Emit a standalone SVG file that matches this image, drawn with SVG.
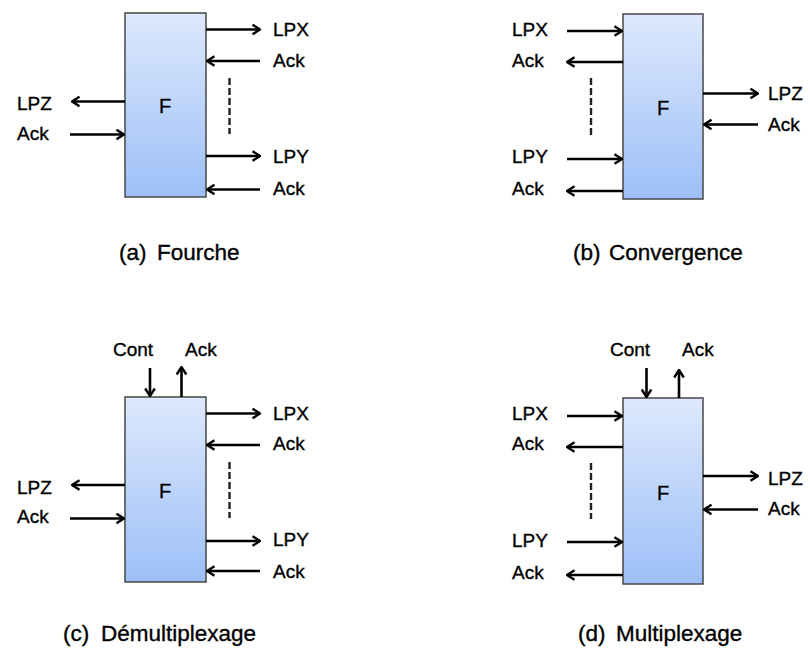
<svg xmlns="http://www.w3.org/2000/svg" width="810" height="650" viewBox="0 0 810 650">
<defs>
<linearGradient id="g" x1="0" y1="0" x2="0" y2="1">
<stop offset="0" stop-color="#dde9fd"/>
<stop offset="1" stop-color="#9dbff7"/>
</linearGradient>
<marker id="ah" viewBox="0 0 10 12" refX="9" refY="6" markerWidth="10" markerHeight="12" markerUnits="userSpaceOnUse" orient="auto">
<path d="M1.5,1.2 L9,6 L1.5,10.8" fill="none" stroke="#000" stroke-width="2.4" stroke-linejoin="miter"/>
</marker>
<style>
.box{fill:url(#g);stroke:#474747;stroke-width:1.5}
.a{stroke:#000;stroke-width:2.6;fill:none;marker-end:url(#ah)}
.d{stroke:#222;stroke-width:2.4;stroke-dasharray:7,3;fill:none}
text{font-family:"Liberation Sans",Arial,sans-serif;fill:#000;stroke:#000;stroke-width:0.35}
.l{font-size:19px}
.f{font-size:20px;text-anchor:middle}
.c{font-size:22.5px}
</style>
</defs>
<rect width="810" height="650" fill="#fff"/>

<g id="node-a">
<rect class="box" x="125" y="13" width="81" height="184"/>
<text class="f" x="165" y="113">F</text>
<text class="l" x="273" y="36">LPX</text>
<text class="l" x="273" y="67">Ack</text>
<text class="l" x="273" y="163">LPY</text>
<text class="l" x="273" y="195">Ack</text>
<text class="l" x="17" y="110">LPZ</text>
<text class="l" x="17" y="140">Ack</text>
<text class="c" y="260"><tspan x="119">(a)</tspan><tspan x="157">Fourche</tspan></text>
</g>

<g id="node-b">
<rect class="box" x="623" y="14" width="80" height="185"/>
<text class="f" x="663" y="115">F</text>
<text class="l" x="512" y="36">LPX</text>
<text class="l" x="512" y="67">Ack</text>
<text class="l" x="512" y="163">LPY</text>
<text class="l" x="512" y="195">Ack</text>
<text class="l" x="768" y="100">LPZ</text>
<text class="l" x="768" y="131">Ack</text>
<text class="c" y="260"><tspan x="573">(b)</tspan><tspan x="609">Convergence</tspan></text>
</g>

<g id="node-c">
<rect class="box" x="125" y="397" width="81" height="185"/>
<text class="f" x="165" y="498">F</text>
<text class="l" x="113" y="356">Cont</text>
<text class="l" x="185" y="356">Ack</text>
<text class="l" x="273" y="420">LPX</text>
<text class="l" x="273" y="450">Ack</text>
<text class="l" x="273" y="546">LPY</text>
<text class="l" x="273" y="578">Ack</text>
<text class="l" x="17" y="494">LPZ</text>
<text class="l" x="17" y="523">Ack</text>
<text class="c" y="641"><tspan x="63">(c)</tspan><tspan x="101">Démultiplexage</tspan></text>
</g>

<g id="node-d">
<rect class="box" x="623" y="398" width="80" height="186"/>
<text class="f" x="663" y="500">F</text>
<text class="l" x="610" y="356">Cont</text>
<text class="l" x="682" y="356">Ack</text>
<text class="l" x="512" y="420">LPX</text>
<text class="l" x="512" y="450">Ack</text>
<text class="l" x="512" y="547">LPY</text>
<text class="l" x="512" y="579">Ack</text>
<text class="l" x="768" y="485">LPZ</text>
<text class="l" x="768" y="515">Ack</text>
<text class="c" y="641"><tspan x="578">(d)</tspan><tspan x="616">Multiplexage</tspan></text>
</g>

<g id="connectors">
<line class="a" x1="206" y1="29.5" x2="260" y2="29.5"/>
<line class="a" x1="260" y1="61" x2="207" y2="61"/>
<line class="a" x1="206" y1="156" x2="260" y2="156"/>
<line class="a" x1="260" y1="189.5" x2="207" y2="189.5"/>
<line class="a" x1="125" y1="101.5" x2="72" y2="101.5"/>
<line class="a" x1="70" y1="134.5" x2="124" y2="134.5"/>
<line class="d" x1="229.5" y1="78" x2="229.5" y2="134"/>
<line class="a" x1="567" y1="31" x2="622" y2="31"/>
<line class="a" x1="623" y1="62" x2="567" y2="62"/>
<line class="a" x1="567" y1="159" x2="622" y2="159"/>
<line class="a" x1="623" y1="191" x2="567" y2="191"/>
<line class="a" x1="703" y1="93.5" x2="758" y2="93.5"/>
<line class="a" x1="758" y1="124.5" x2="704" y2="124.5"/>
<line class="d" x1="591" y1="78" x2="591" y2="135"/>
<line class="a" x1="150" y1="368" x2="150" y2="396"/>
<line class="a" x1="181.5" y1="397" x2="181.5" y2="367"/>
<line class="a" x1="206" y1="413.5" x2="260" y2="413.5"/>
<line class="a" x1="260" y1="445" x2="207" y2="445"/>
<line class="a" x1="206" y1="541" x2="260" y2="541"/>
<line class="a" x1="260" y1="571" x2="207" y2="571"/>
<line class="a" x1="125" y1="485" x2="72" y2="485"/>
<line class="a" x1="70" y1="518.5" x2="124" y2="518.5"/>
<line class="d" x1="229.5" y1="462" x2="229.5" y2="518"/>
<line class="a" x1="646.5" y1="368" x2="646.5" y2="397"/>
<line class="a" x1="679" y1="398" x2="679" y2="370"/>
<line class="a" x1="567" y1="416" x2="622" y2="416"/>
<line class="a" x1="623" y1="447" x2="567" y2="447"/>
<line class="a" x1="567" y1="542" x2="622" y2="542"/>
<line class="a" x1="623" y1="575" x2="567" y2="575"/>
<line class="a" x1="703" y1="476" x2="758" y2="476"/>
<line class="a" x1="758" y1="509.5" x2="704" y2="509.5"/>
<line class="d" x1="591" y1="463" x2="591" y2="519"/>
</g>
</svg>
